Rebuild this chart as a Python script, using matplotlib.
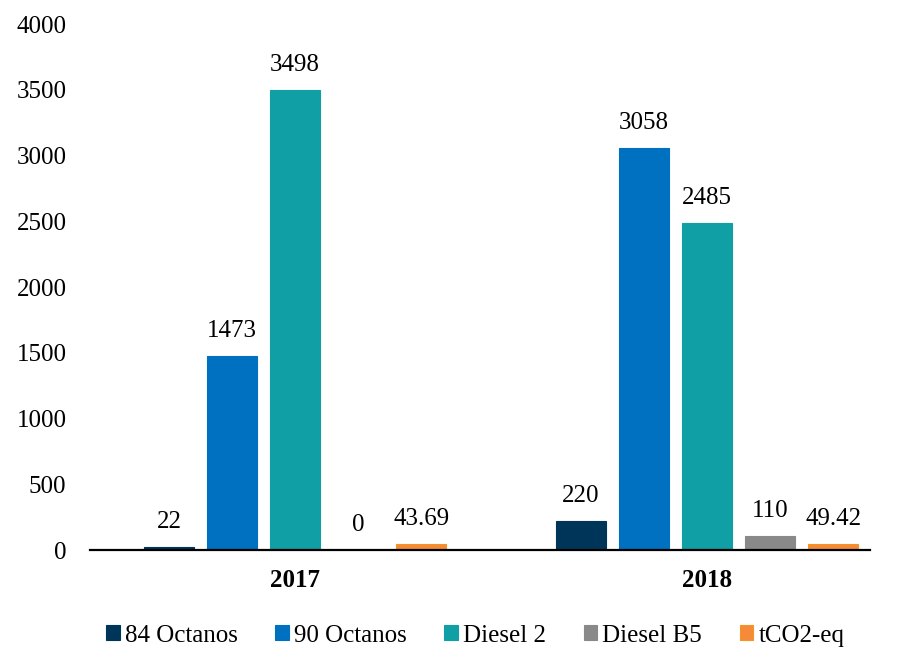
import numpy as np
import matplotlib.pyplot as plt

plt.rcParams['font.family'] = ['Liberation Serif', 'DejaVu Serif']

years = ['2017', '2018']
series = ['84 Octanos', '90 Octanos', 'Diesel 2', 'Diesel B5', 'tCO2-eq']
values = {
    '84 Octanos': [22, 220],
    '90 Octanos': [1473, 3058],
    'Diesel 2': [3498, 2485],
    'Diesel B5': [0, 110],
    'tCO2-eq': [43.69, 49.42],
}
labels = {
    '84 Octanos': ['22', '220'],
    '90 Octanos': ['1473', '3058'],
    'Diesel 2': ['3498', '2485'],
    'Diesel B5': ['0', '110'],
    'tCO2-eq': ['43.69', '49.42'],
}
colors = ['#00355A', '#0070C0', '#109FA4', '#898989', '#F58B3A']

fig = plt.figure(figsize=(8.99, 6.48), dpi=100)
ax = fig.add_axes([0.1001, 0.1512, 0.8677, 0.8117])

x = np.arange(len(years))
step = 0.153
width = 0.121
for i, (name, c) in enumerate(zip(series, colors)):
    pos = x + (i - 2) * step
    bars = ax.bar(pos, values[name], width, color=c, label=name,
                  edgecolor='#F7941D' if name == 'tCO2-eq' else c, linewidth=0.8)
    ax.bar_label(bars, labels=labels[name], padding=10, fontsize=18)

ax.set_xlim(-0.4976, 1.3956)
ax.set_ylim(0, 4000)
ax.set_yticks(np.arange(0, 4001, 500))
ax.set_xticks(x)
ax.set_xticklabels(years, fontweight='bold')
ax.tick_params(axis='y', length=0, labelsize=18, pad=17)
ax.tick_params(axis='x', length=0, labelsize=18, pad=14)
for s in ['top', 'right', 'left']:
    ax.spines[s].set_visible(False)
ax.spines['bottom'].set_linewidth(1.6)

ax.legend(loc='upper center', bbox_to_anchor=(0.494, -0.111), ncol=5, frameon=False,
          fontsize=18, handlelength=0.55, handleheight=0.55, handletextpad=0.2,
          columnspacing=1.5, borderpad=0.15)

fig.savefig('out.png', dpi=100)
